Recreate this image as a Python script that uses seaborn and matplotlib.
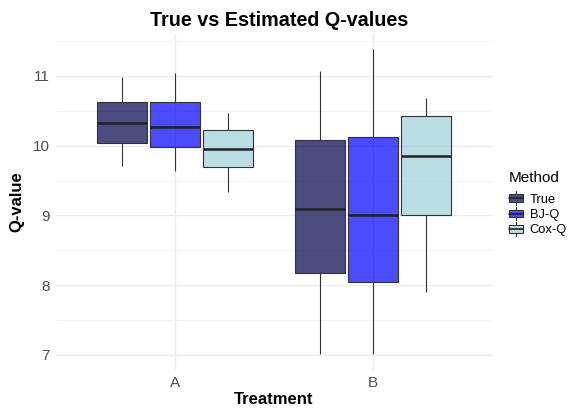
import numpy as np
import pandas as pd
import matplotlib
matplotlib.use("Agg")
import matplotlib.pyplot as plt
import seaborn as sns
from matplotlib.patches import Rectangle, Patch
from matplotlib.lines import Line2D
from matplotlib.legend_handler import HandlerBase

# ---- data (five-number summaries) ----
treatments = ["A", "B"]
methods = ["True", "BJ-Q", "Cox-Q"]
# rows: treatment, cols: method
mins    = [[9.71, 9.63, 9.34], [7.01, 7.02, 7.90]]
q1s     = [[10.04, 9.98, 9.69], [8.17, 8.04, 9.01]]
medians = [[10.32, 10.27, 9.95], [9.09, 9.00, 9.85]]
q3s     = [[10.63, 10.62, 10.23], [10.08, 10.13, 10.43]]
maxs    = [[10.98, 11.04, 10.47], [11.07, 11.38, 10.69]]

rows = []
for i, t in enumerate(treatments):
    for j, m in enumerate(methods):
        for v in (mins[i][j], q1s[i][j], medians[i][j], q3s[i][j], maxs[i][j]):
            rows.append({"Treatment": t, "Method": m, "Qvalue": v})
df = pd.DataFrame(rows)

base_colors = ["#00004c", "#0000ff", "#9fd1db"]
alpha = 0.7
edge = "#333333"

sns.set_style("white")
plt.rcParams["font.family"] = ["Liberation Sans", "DejaVu Sans"]
plt.rcParams["text.color"] = "black"
plt.rcParams["axes.labelcolor"] = "black"

fig = plt.figure(figsize=(5.70, 4.09), dpi=100)
ax = fig.add_axes([56/570, 1-370/409, (492-56)/570, (370-34)/409])

sns.boxplot(data=df, x="Treatment", y="Qvalue", hue="Method",
            order=treatments, hue_order=methods, palette=base_colors,
            saturation=1, width=0.8, gap=0.06, linecolor=edge, linewidth=0.8,
            showcaps=False, fliersize=0,
            medianprops={"linewidth": 1.8, "color": "#222222"},
            ax=ax, zorder=3)

for p in ax.patches:
    fc = p.get_facecolor()
    p.set_facecolor((fc[0], fc[1], fc[2], alpha))

if ax.get_legend() is not None:
    ax.get_legend().remove()

ax.set_ylim(6.785, 11.60)
ax.set_xlim(-0.6, 1.6)
ax.set_yticks([7, 8, 9, 10, 11])
ax.set_yticks([7.5, 8.5, 9.5, 10.5, 11.5], minor=True)
ax.grid(True, which="major", color="#ebebeb", linewidth=1.0, zorder=0)
ax.grid(True, which="minor", axis="y", color="#f3f3f3", linewidth=0.6, zorder=0)
ax.set_axisbelow(True)
for s in ax.spines.values():
    s.set_visible(False)
ax.tick_params(axis="both", which="both", length=0, labelsize=11, labelcolor="#4d4d4d")
ax.tick_params(axis="y", pad=4.5)
ax.tick_params(axis="x", pad=4)

ax.set_xlabel("Treatment", fontsize=12, fontweight="bold", labelpad=2, color="black")
ax.set_ylabel("Q-value", fontsize=12, fontweight="bold", labelpad=6, color="black")
ax.set_title("True vs Estimated Q-values", fontsize=14.2, fontweight="bold",
             pad=6, color="black", x=(279-56)/436)


class BoxHandler(HandlerBase):
    def create_artists(self, legend, orig_handle, xdescent, ydescent,
                       width, height, fontsize, trans):
        x0, y0 = -xdescent, -ydescent
        fc = orig_handle.get_facecolor()
        cx = x0 + width / 2
        whisk1 = Line2D([cx, cx], [y0 - 0.2 * height, y0 + 0.1 * height],
                        color=edge, lw=0.8, transform=trans)
        whisk2 = Line2D([cx, cx], [y0 + 0.9 * height, y0 + 1.2 * height],
                        color=edge, lw=0.8, transform=trans)
        rect = Rectangle((x0, y0 + 0.1 * height), width, 0.8 * height,
                         facecolor=fc, edgecolor=edge, lw=0.8, transform=trans)
        med = Line2D([x0, x0 + width], [y0 + 0.5 * height] * 2,
                     color="#222222", lw=1.2, transform=trans)
        return [whisk1, whisk2, rect, med]


handles = [Patch(facecolor=matplotlib.colors.to_rgba(c, alpha)) for c in base_colors]
leg = fig.legend(handles, methods, title="Method",
                 handler_map={Patch: BoxHandler()},
                 loc="upper left", bbox_to_anchor=(509/570, 1-171/409),
                 frameon=False, fontsize=9.3, title_fontsize=11,
                 borderpad=0, borderaxespad=0,
                 handlelength=1.1, handleheight=0.75, handletextpad=0.5,
                 labelspacing=0.25, alignment="left")
leg._legend_box.sep = 6

fig.savefig("out.png", dpi=100)
